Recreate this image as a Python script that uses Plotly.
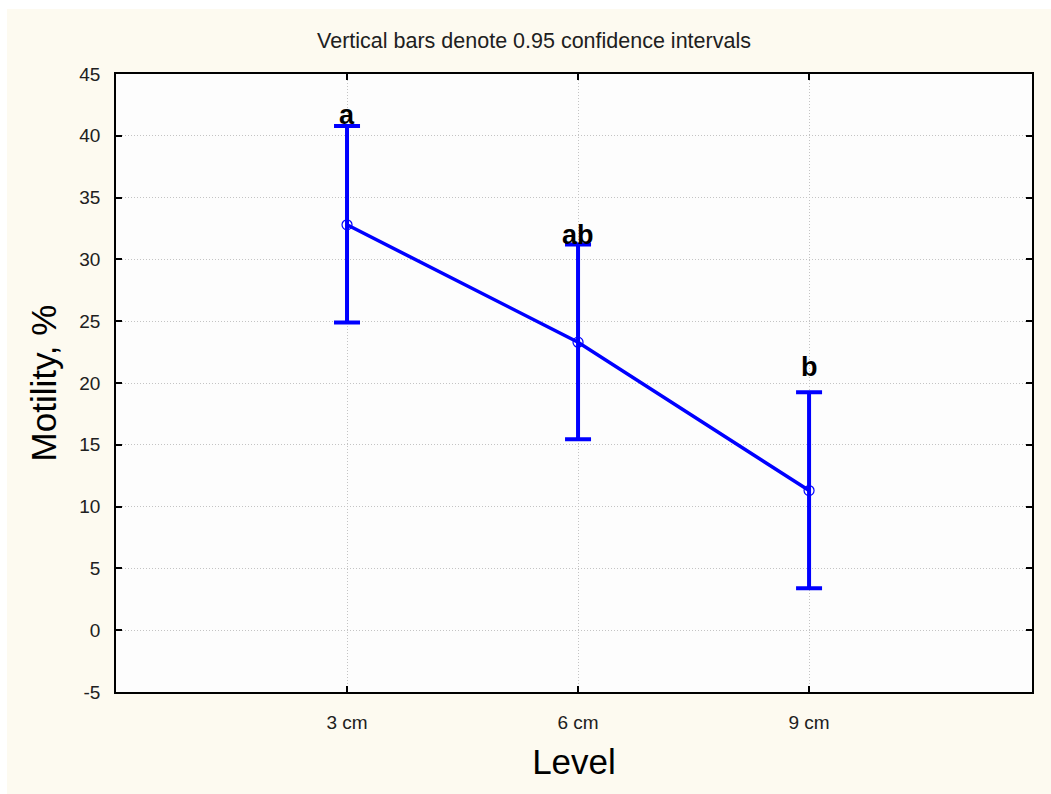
import plotly.graph_objects as go

# ---- data ----
levels = ["3 cm", "6 cm", "9 cm"]
means = [32.8, 23.3, 11.3]
ci_low = [24.9, 15.45, 3.4]
ci_high = [40.8, 31.2, 19.25]
group_labels = ["a", "ab", "b"]
label_y = [40.3, 30.6, 19.9]
y_ticks = [-5, 0, 5, 10, 15, 20, 25, 30, 35, 40, 45]

BLUE = "#0000FF"
CREAM = "#FDFAF0"
FONT = "Liberation Sans, Arial, sans-serif"

err_plus = [h - m for h, m in zip(ci_high, means)]
err_minus = [m - l for m, l in zip(means, ci_low)]

fig = go.Figure()
fig.add_trace(go.Scatter(
    x=levels, y=means, mode="lines+markers",
    line=dict(color=BLUE, width=3.5),
    marker=dict(symbol="circle-open", size=10, color=BLUE, line=dict(width=1.2, color=BLUE)),
    error_y=dict(type="data", symmetric=False, array=err_plus, arrayminus=err_minus,
                 color=BLUE, thickness=4, width=13),
    showlegend=False,
))

for lv, lab, ly in zip(levels, group_labels, label_y):
    fig.add_annotation(x=lv, y=ly, text="<b>%s</b>" % lab, showarrow=False,
                       yanchor="bottom", xanchor="center",
                       font=dict(family=FONT, size=27, color="black"))

W, H = 1051, 794
L, R, T, B = 116, 19, 74, 102
pw, ph = W - L - R, H - T - B

def px(x):
    return (x - L) / pw

def py(y):
    return (H - B - y) / ph

# white strips at top and left edge of the picture
fig.add_shape(type="rect", xref="paper", yref="paper", x0=px(0), x1=px(7), y0=py(H), y1=py(0),
              fillcolor="white", line=dict(width=0), layer="below")
fig.add_shape(type="rect", xref="paper", yref="paper", x0=px(0), x1=px(W), y0=py(9), y1=py(0),
              fillcolor="white", line=dict(width=0), layer="below")

fig.update_layout(
    width=W, height=H,
    margin=dict(l=L, r=R, t=T, b=B, pad=0),
    paper_bgcolor=CREAM,
    plot_bgcolor="#FDFDFD",
    font=dict(family=FONT, color="#202020"),
    title=dict(text="Vertical bars denote 0.95 confidence intervals",
               x=534 / W, xref="container", xanchor="center",
               y=1 - 40 / H, yref="container", yanchor="middle",
               font=dict(family=FONT, size=21.5, color="#202020")),
)

GRID = "#C4C4C4"
fig.update_xaxes(
    type="category", range=[-1, 2.965],
    showline=True, linecolor="black", linewidth=1.5, mirror="ticks",
    ticks="inside", ticklen=6, tickcolor="black", tickwidth=1.5,
    showgrid=True, gridcolor=GRID, griddash="1px,2px", gridwidth=1,
    tickfont=dict(family=FONT, size=19, color="#202020"),
    ticklabelstandoff=12,
    title=dict(text="Level", font=dict(family=FONT, size=35, color="black"), standoff=18),
    zeroline=False,
)
fig.update_yaxes(
    range=[-5, 45], tickvals=y_ticks, ticktext=[str(v) for v in y_ticks],
    showline=True, linecolor="black", linewidth=1.5, mirror="ticks",
    ticks="inside", ticklen=6, tickcolor="black", tickwidth=1.5,
    showgrid=True, gridcolor=GRID, griddash="1px,2px", gridwidth=1,
    tickfont=dict(family=FONT, size=19, color="#202020"),
    ticklabelstandoff=10,
    title=dict(text="Motility, %", font=dict(family=FONT, size=35, color="black"), standoff=12),
    zeroline=False,
)

fig.write_html("out.html")
